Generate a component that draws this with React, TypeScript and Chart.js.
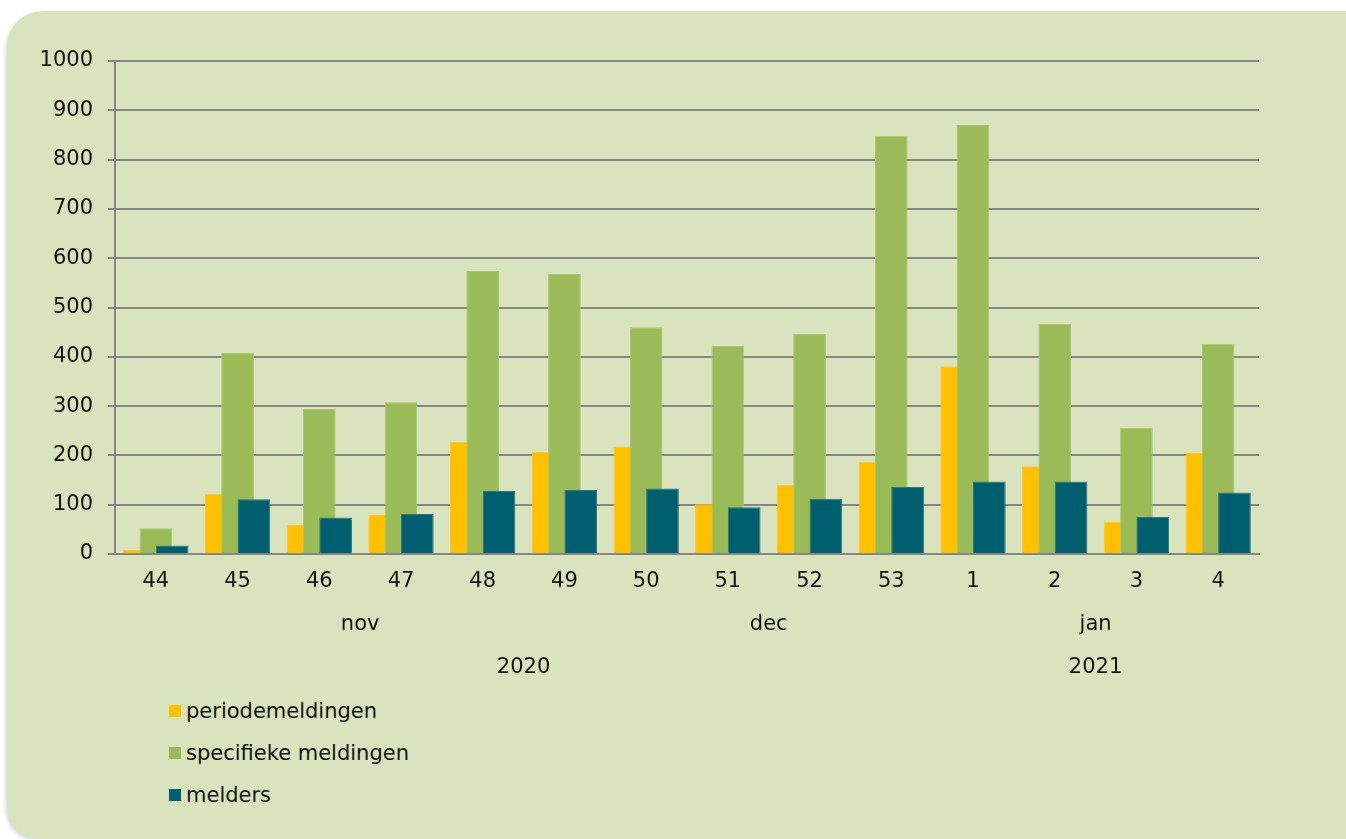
import React, { useEffect, useRef } from 'react';
import { Chart, registerables } from 'chart.js';

Chart.register(...registerables);

const weeks = ['44', '45', '46', '47', '48', '49', '50', '51', '52', '53', '1', '2', '3', '4'];
const months = ['nov', 'nov', 'nov', 'nov', 'nov', 'nov', 'dec', 'dec', 'dec', 'dec', 'jan', 'jan', 'jan', 'jan'];
const years = ['2020', '2020', '2020', '2020', '2020', '2020', '2020', '2020', '2020', '2020', '2021', '2021', '2021', '2021'];

const seriesNames = ['periodemeldingen', 'specifieke meldingen', 'melders'];
const periodemeldingen = [8, 122, 59, 79, 227, 207, 218, 101, 140, 187, 381, 178, 66, 205];
const specifiekeMeldingen = [52, 408, 294, 308, 574, 568, 460, 422, 446, 848, 870, 467, 256, 426];
const melders = [17, 111, 74, 81, 128, 130, 133, 95, 112, 136, 147, 147, 75, 125];

const yTicksMin = 0;
const yTicksMax = 1000;
const yTicksStep = 100;

const seriesColors = ['#FFC000', '#9BBB59', '#005F6E'];
const seriesBorders = ['#FFC72A', '#A9C56E', '#2A7580'];

const FONT = '"DejaVu Sans", Verdana, sans-serif';
const FONT_SIZE = 21;
const TEXT = '#141414';
const GRID = '#858585';
const PANEL = '#D9E4BE';

export default function App() {
  const ref = useRef<HTMLCanvasElement>(null);

  useEffect(() => {
    if (!ref.current) return;

    const drawOrderPlugin = {
      id: 'drawOrder',
      beforeDatasetsDraw(chart: any) {
        const a = chart.chartArea;
        const ctx = chart.ctx;
        ctx.save();
        ctx.beginPath();
        ctx.rect(a.left, a.top - 2, a.right - a.left, a.bottom - a.top + 2);
        ctx.clip();
        for (let i = 0; i < chart.data.datasets.length; i++) {
          const meta = chart.getDatasetMeta(i);
          if (!meta.hidden) meta.controller.draw();
        }
        ctx.restore();
        return false;
      },
    };

    const groupLabelPlugin = {
      id: 'groupLabels',
      afterDraw(chart: any) {
        const xs = chart.scales.x;
        const ctx = chart.ctx;
        const bottom = chart.chartArea.bottom;
        const drawRow = (arr: string[], dy: number) => {
          let start = 0;
          for (let i = 1; i <= arr.length; i++) {
            if (i === arr.length || arr[i] !== arr[start]) {
              const x = (xs.getPixelForValue(start) + xs.getPixelForValue(i - 1)) / 2;
              ctx.fillText(arr[start], x, bottom + dy);
              start = i;
            }
          }
        };
        ctx.save();
        ctx.font = `${FONT_SIZE}px ${FONT}`;
        ctx.fillStyle = TEXT;
        ctx.textAlign = 'center';
        ctx.textBaseline = 'middle';
        drawRow(months, 71);
        drawRow(years, 114);
        ctx.restore();
      },
    };

    const values = [periodemeldingen, specifiekeMeldingen, melders];

    const chart = new Chart(ref.current, {
      type: 'bar',
      data: {
        labels: weeks,
        datasets: values.map((d, i) => ({
          label: seriesNames[i],
          data: d,
          backgroundColor: seriesColors[i],
          borderColor: seriesBorders[i],
          borderWidth: 1,
          categoryPercentage: 0.6,
          barPercentage: 2,
        })),
      },
      options: {
        responsive: false,
        animation: false,
        devicePixelRatio: 1,
        layout: { padding: { left: 0, right: 87, top: 50, bottom: 97 } },
        plugins: {
          legend: { display: false },
          tooltip: { enabled: false },
          title: { display: false },
        },
        scales: {
          x: {
            grid: { display: true, drawOnChartArea: false, drawTicks: false },
            border: { display: true, color: GRID, width: 2 },
            ticks: {
              color: TEXT,
              font: { family: FONT, size: FONT_SIZE },
              padding: 15,
              maxRotation: 0,
              autoSkip: false,
            },
            afterFit: (s: any) => {
              s.height = 40;
            },
          },
          y: {
            min: yTicksMin,
            max: yTicksMax,
            grid: { color: GRID, lineWidth: 2, drawTicks: true, tickLength: 7 },
            border: { display: true, color: GRID, width: 2 },
            ticks: {
              stepSize: yTicksStep,
              color: TEXT,
              font: { family: FONT, size: FONT_SIZE },
              padding: 15,
              callback: (v: any) => String(v),
            },
            afterFit: (s: any) => {
              s.width = 108;
            },
          },
        },
      },
      plugins: [drawOrderPlugin, groupLabelPlugin],
    });

    return () => chart.destroy();
  }, []);

  const rowCenters = [700, 742, 784];

  return (
    <div
      style={{
        position: 'fixed',
        left: 0,
        top: 0,
        width: 1346,
        height: 839,
        overflow: 'hidden',
        background: '#ffffff',
        fontFamily: FONT,
      }}
    >
      <div
        style={{
          position: 'absolute',
          left: 7,
          top: 11,
          width: 1400,
          height: 828,
          background: PANEL,
          borderTopLeftRadius: 36,
          borderBottomLeftRadius: 32,
          boxShadow: '-1px 2px 4px rgba(0,0,0,0.18)',
          overflow: 'hidden',
        }}
      >
        <canvas
          ref={ref}
          width={1339}
          height={680}
          style={{ position: 'absolute', left: 0, top: 0, display: 'block' }}
        />
        {seriesNames.map((name, i) => (
          <div
            key={name}
            style={{
              position: 'absolute',
              left: 162,
              top: rowCenters[i] - 14,
              height: 28,
              display: 'flex',
              alignItems: 'center',
              fontSize: FONT_SIZE,
              color: TEXT,
              whiteSpace: 'nowrap',
            }}
          >
            <span
              style={{
                display: 'inline-block',
                width: 12,
                height: 12,
                background: seriesColors[i],
                marginRight: 5,
              }}
            />
            <span>{name}</span>
          </div>
        ))}
      </div>
    </div>
  );
}
